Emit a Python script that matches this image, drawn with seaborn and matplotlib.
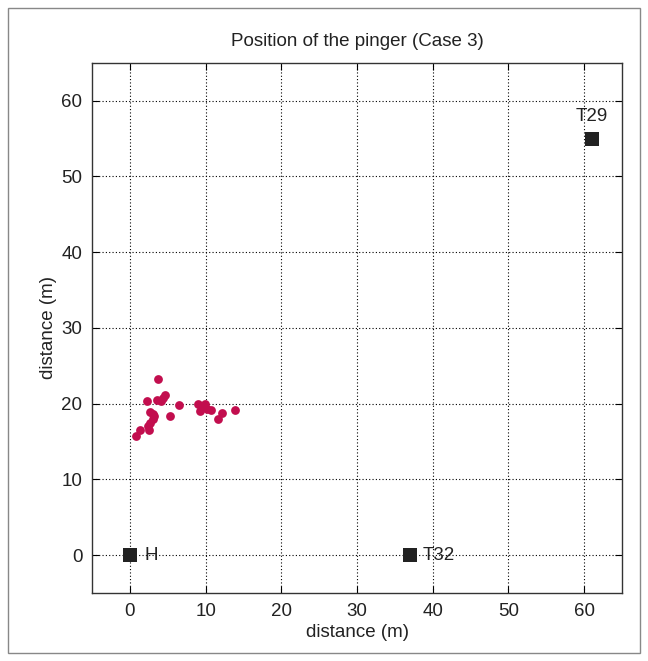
import pandas as pd
import seaborn as sns
import matplotlib.pyplot as plt
from matplotlib.patches import Rectangle

# estimated pinger positions (m)
ping_x = [0.75, 1.3, 2.5, 2.4, 2.7, 3.0, 3.25, 2.7, 3.0, 2.3, 3.7, 3.6, 4.1, 4.6, 4.4,
          5.3, 6.45, 9.0, 9.2, 9.9, 10.2, 10.7, 11.6, 12.2, 13.9, 9.6]
ping_y = [15.7, 16.5, 16.5, 17.0, 17.4, 17.9, 18.4, 18.9, 18.6, 20.4, 23.2, 20.5, 20.3, 21.1, 20.7,
          18.3, 19.8, 19.9, 19.0, 20.0, 19.3, 19.1, 17.9, 18.8, 19.1, 19.6]

# transponder / hydrophone positions
station_names = ['H', 'T32', 'T29']
station_x = [0, 37, 61]
station_y = [0, 0, 55]

sns.set_style('white')
plt.rcParams['font.family'] = ['Liberation Sans', 'DejaVu Sans']

fig = plt.figure(figsize=(6.48, 6.61), dpi=100)
ax = fig.add_axes([0.142, 0.103, 0.818, 0.802])

pings = pd.DataFrame({'x': ping_x, 'y': ping_y})
stations = pd.DataFrame({'name': station_names, 'x': station_x, 'y': station_y})

sns.scatterplot(data=pings, x='x', y='y', color='#c20e4e', s=40, linewidth=0, ax=ax, zorder=3)
sns.scatterplot(data=stations, x='x', y='y', marker='s', color='#222222', s=115,
                linewidth=0, ax=ax, zorder=3)

fs = 13.5
for name, sx, sy in zip(station_names, station_x, station_y):
    if name == 'T29':
        ax.text(sx, sy + 2.9, name, ha='center', va='center', fontsize=fs, color='#222222')
    elif name == 'H':
        ax.text(sx + 1.9, sy, name, ha='left', va='center', fontsize=fs, color='#222222')
    else:
        ax.text(sx + 1.6, sy, name, ha='left', va='center', fontsize=fs, color='#222222')

ax.set_xlim(-5, 65)
ax.set_ylim(-5, 65)
ax.set_xticks(range(0, 61, 10))
ax.set_yticks(range(0, 61, 10))
ax.grid(True, linestyle=(0, (1, 2)), color='black', linewidth=0.8)
ax.tick_params(direction='in', length=5, labelsize=fs, color='black', labelcolor='#222222',
               top=True, right=True, bottom=True, left=True, pad=7)
for sp in ax.spines.values():
    sp.set_color('#333333')
    sp.set_linewidth(1.0)

ax.set_xlabel('distance (m)', fontsize=fs, labelpad=3, color='#222222')
ax.set_ylabel('distance (m)', fontsize=fs, labelpad=3, color='#222222')
ax.set_title('Position of the pinger (Case 3)', fontsize=fs, pad=12, color='#222222')

# outer frame
fig.patches.append(Rectangle((0.012, 0.012), 0.976, 0.976, transform=fig.transFigure,
                             fill=False, edgecolor='#888888', linewidth=1.0))

fig.savefig('out.png', dpi=100)
